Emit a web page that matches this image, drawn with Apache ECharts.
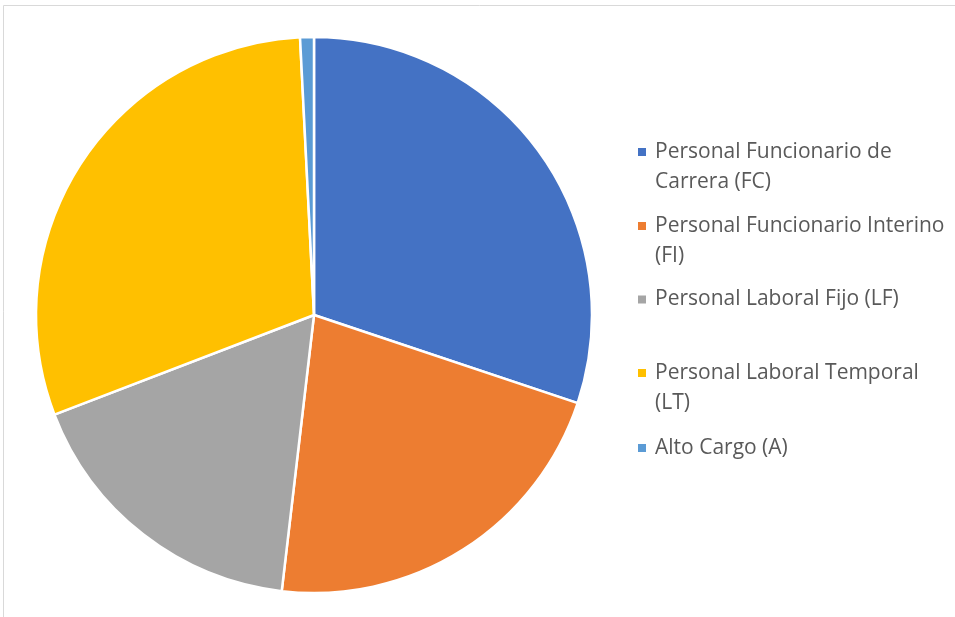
<!DOCTYPE html>
<html>
<head>
<meta charset="utf-8">
<script src="https://cdn.jsdelivr.net/npm/echarts@6/dist/echarts.min.js"></script>
<style>
  html, body { margin: 0; padding: 0; background: #fff; }
  #chart { width: 955px; height: 617px; }
</style>
</head>
<body>
<div id="chart"></div>
<script>
// categorias y valores (porcentaje estimado)
const categories = [
  'Personal Funcionario de Carrera (FC)',
  'Personal Funcionario Interino (FI)',
  'Personal Laboral Fijo (LF)',
  'Personal Laboral Temporal (LT)',
  'Alto Cargo (A)'
];
const legendLabels = [
  ['Personal Funcionario de', 'Carrera (FC)'],
  ['Personal Funcionario Interino', '(FI)'],
  ['Personal Laboral Fijo (LF)'],
  ['Personal Laboral Temporal', '(LT)'],
  ['Alto Cargo (A)']
];
const values = [30.1, 21.7, 17.3, 30.0, 0.8];
const colors = ['#4472c4', '#ed7d31', '#a5a5a5', '#ffc000', '#5b9bd5'];

const FONT = "'Segoe UI', 'Open Sans', sans-serif";
const legendCenters = [152, 226, 299.5, 373, 448];

const chart = echarts.init(document.getElementById('chart'), null, { renderer: 'canvas' });

// una leyenda por item para que el icono quede en la primera linea
const legends = categories.map((name, i) => {
  const lines = legendLabels[i];
  const twoLines = lines.length > 1;
  // linea vacia arriba: el bloque se centra en el icono, asi la 1a linea queda a su altura
  const text = twoLines ? ' \n' + lines.join('\n') : lines[0];
  return {
    data: [name],
    left: 636,
    top: legendCenters[i] - (twoLines ? 45 : 15),
    padding: 0,
    orient: 'vertical',
    icon: 'rect',
    itemWidth: 10,
    itemHeight: 10,
    itemGap: 0,
    selectedMode: false,
    formatter: () => text,
    textStyle: {
      fontFamily: FONT,
      fontSize: 21,
      color: '#595959',
      lineHeight: 30,
      padding: [0, 0, 0, 3]
    }
  };
});

const option = {
  animation: false,
  color: colors,
  legend: legends,
  graphic: [{
    type: 'rect',
    shape: { x: 3.5, y: 5.5, width: 1200, height: 1200 },
    style: { fill: 'none', stroke: '#d9d9d9', lineWidth: 1 },
    silent: true
  }],
  series: [{
    type: 'pie',
    center: [314, 315],
    radius: 278,
    startAngle: 90,
    clockwise: true,
    label: { show: false },
    labelLine: { show: false },
    emphasis: { disabled: true },
    itemStyle: { borderColor: '#fff', borderWidth: 2.5 },
    data: categories.map((name, i) => ({ name: name, value: values[i] }))
  }]
};

chart.setOption(option);
</script>
</body>
</html>
